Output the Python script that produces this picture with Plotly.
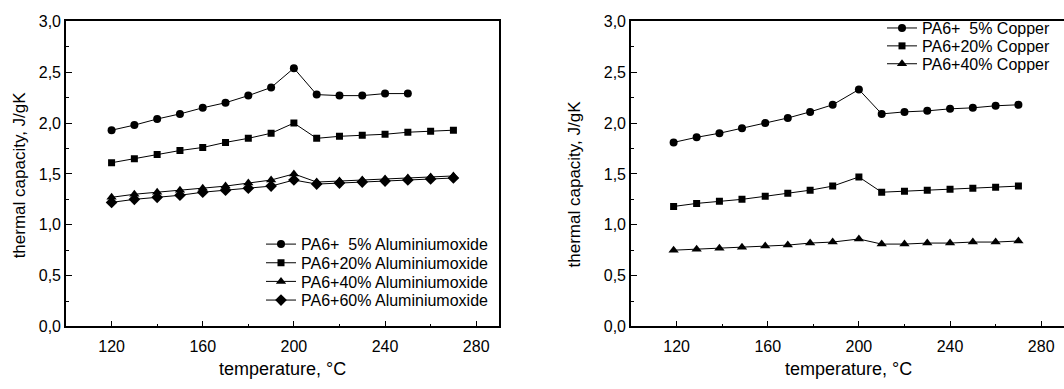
import plotly.graph_objects as go

# ---- data ----
temp_al_5 = [120, 130, 140, 150, 160, 170, 180, 190, 200, 210, 220, 230, 240, 250]
temp_al = [120, 130, 140, 150, 160, 170, 180, 190, 200, 210, 220, 230, 240, 250, 260, 270]
al_5 = [1.93, 1.98, 2.04, 2.09, 2.15, 2.20, 2.27, 2.35, 2.54, 2.28, 2.27, 2.27, 2.29, 2.29]
al_20 = [1.61, 1.65, 1.69, 1.73, 1.76, 1.81, 1.85, 1.90, 2.00, 1.85, 1.87, 1.88, 1.89, 1.91, 1.92, 1.93]
al_40 = [1.27, 1.30, 1.32, 1.34, 1.36, 1.38, 1.41, 1.44, 1.50, 1.42, 1.43, 1.44, 1.45, 1.46, 1.47, 1.48]
al_60 = [1.22, 1.25, 1.27, 1.29, 1.32, 1.34, 1.36, 1.38, 1.44, 1.40, 1.41, 1.42, 1.43, 1.44, 1.45, 1.46]

temp_cu = [118.7, 128.8, 138.8, 148.7, 158.9, 168.8, 178.6, 188.5, 200, 210, 220, 230, 240, 250, 260, 270]
cu_5 = [1.81, 1.86, 1.90, 1.95, 2.00, 2.05, 2.11, 2.18, 2.33, 2.09, 2.11, 2.12, 2.14, 2.15, 2.17, 2.18]
cu_20 = [1.18, 1.21, 1.23, 1.25, 1.28, 1.31, 1.34, 1.38, 1.47, 1.32, 1.33, 1.34, 1.35, 1.36, 1.37, 1.38]
cu_40 = [0.75, 0.76, 0.77, 0.78, 0.79, 0.80, 0.82, 0.83, 0.86, 0.81, 0.81, 0.82, 0.82, 0.83, 0.83, 0.84]

x_ticks = [120, 160, 200, 240, 280]
y_ticks = [0.0, 0.5, 1.0, 1.5, 2.0, 2.5, 3.0]

FONT = "Liberation Sans, Arial, sans-serif"
W, H = 1064, 389

fig = go.Figure()

# (x, y, name, symbol, size, xaxis, yaxis, legend-left-px, legend-row-center-px)
series = [
    (temp_al_5, al_5, "PA6+  5% Aluminiumoxide", "circle", 8, "x", "y", 261, 247),
    (temp_al, al_20, "PA6+20% Aluminiumoxide", "square", 7, "x", "y", 261, 266.5),
    (temp_al, al_40, "PA6+40% Aluminiumoxide", "triangle-up", 9, "x", "y", 261, 286),
    (temp_al, al_60, "PA6+60% Aluminiumoxide", "diamond", 9, "x", "y", 261, 305.5),
    (temp_cu, cu_5, "PA6+  5% Copper", "circle", 8, "x2", "y2", 882, 21),
    (temp_cu, cu_20, "PA6+20% Copper", "square", 7, "x2", "y2", 882, 39.7),
    (temp_cu, cu_40, "PA6+40% Copper", "triangle-up", 9, "x2", "y2", 882, 58.4),
]

legends = {}
for i, (x, y, name, sym, size, xa, ya, lx, ly) in enumerate(series):
    key = "legend" if i == 0 else f"legend{i + 1}"
    fig.add_trace(go.Scatter(
        x=x, y=y, name=name, mode="lines+markers",
        line=dict(color="black", width=1),
        marker=dict(symbol=sym, size=size, color="black"),
        xaxis=xa, yaxis=ya, legend=key))
    legends[key] = dict(x=lx / W, y=(H - ly) / H, xanchor="left", yanchor="middle",
                        bgcolor="rgba(0,0,0,0)", borderwidth=0,
                        font=dict(family=FONT, size=16, color="black"),
                        itemwidth=30)

ydom = [(H - 333) / H, (H - 14) / H]

def xaxis(dom, anchor, mirror):
    return dict(domain=dom, anchor=anchor, range=[100, 290], tickvals=x_ticks,
                ticks="inside", ticklen=6, tickwidth=1, tickcolor="black",
                minor=dict(ticks="inside", ticklen=3, dtick=20, tick0=100, tickcolor="black"),
                showline=True, linecolor="black", linewidth=1.6, mirror=mirror,
                showgrid=False, zeroline=False, ticklabelstandoff=5,
                tickfont=dict(family=FONT, size=16, color="black"))

def yaxis(anchor, mirror):
    return dict(domain=ydom, anchor=anchor, range=[0, 3], tickvals=y_ticks,
                tickformat=".1f",
                ticks="inside", ticklen=6, tickwidth=1, tickcolor="black",
                minor=dict(ticks="inside", ticklen=3, dtick=0.25, tick0=0, tickcolor="black"),
                showline=True, linecolor="black", linewidth=1.6, mirror=mirror,
                showgrid=False, zeroline=False,
                tickfont=dict(family=FONT, size=16, color="black"))

fig.update_layout(
    width=W, height=H, margin=dict(l=0, r=0, t=0, b=0),
    paper_bgcolor="white", plot_bgcolor="white",
    separators=", ",
    font=dict(family=FONT, size=15, color="black"),
    xaxis=xaxis([66 / W, 499 / W], "y", True),
    yaxis=yaxis("x", True),
    xaxis2=xaxis([631 / W, 1.0], "y2", True),
    yaxis2=yaxis("x2", False),
    showlegend=True,
    **legends,
)

ann = dict(xref="paper", yref="paper", showarrow=False)
fig.add_annotation(text="thermal capacity, J/gK", x=19 / W, y=(H - 175) / H,
                   textangle=-90, xanchor="center", yanchor="middle",
                   font=dict(family=FONT, size=17, color="black"), **ann)
fig.add_annotation(text="thermal capacity, J/gK", x=574 / W, y=(H - 184.5) / H,
                   textangle=-90, xanchor="center", yanchor="middle",
                   font=dict(family=FONT, size=17, color="black"), **ann)
fig.add_annotation(text="temperature, °C", x=282.5 / W, y=(H - 377) / H,
                   xanchor="center", yanchor="middle",
                   font=dict(family=FONT, size=18, color="black"), **ann)
fig.add_annotation(text="temperature, °C", x=848 / W, y=(H - 377) / H,
                   xanchor="center", yanchor="middle",
                   font=dict(family=FONT, size=18, color="black"), **ann)

fig.write_html("out.html")
